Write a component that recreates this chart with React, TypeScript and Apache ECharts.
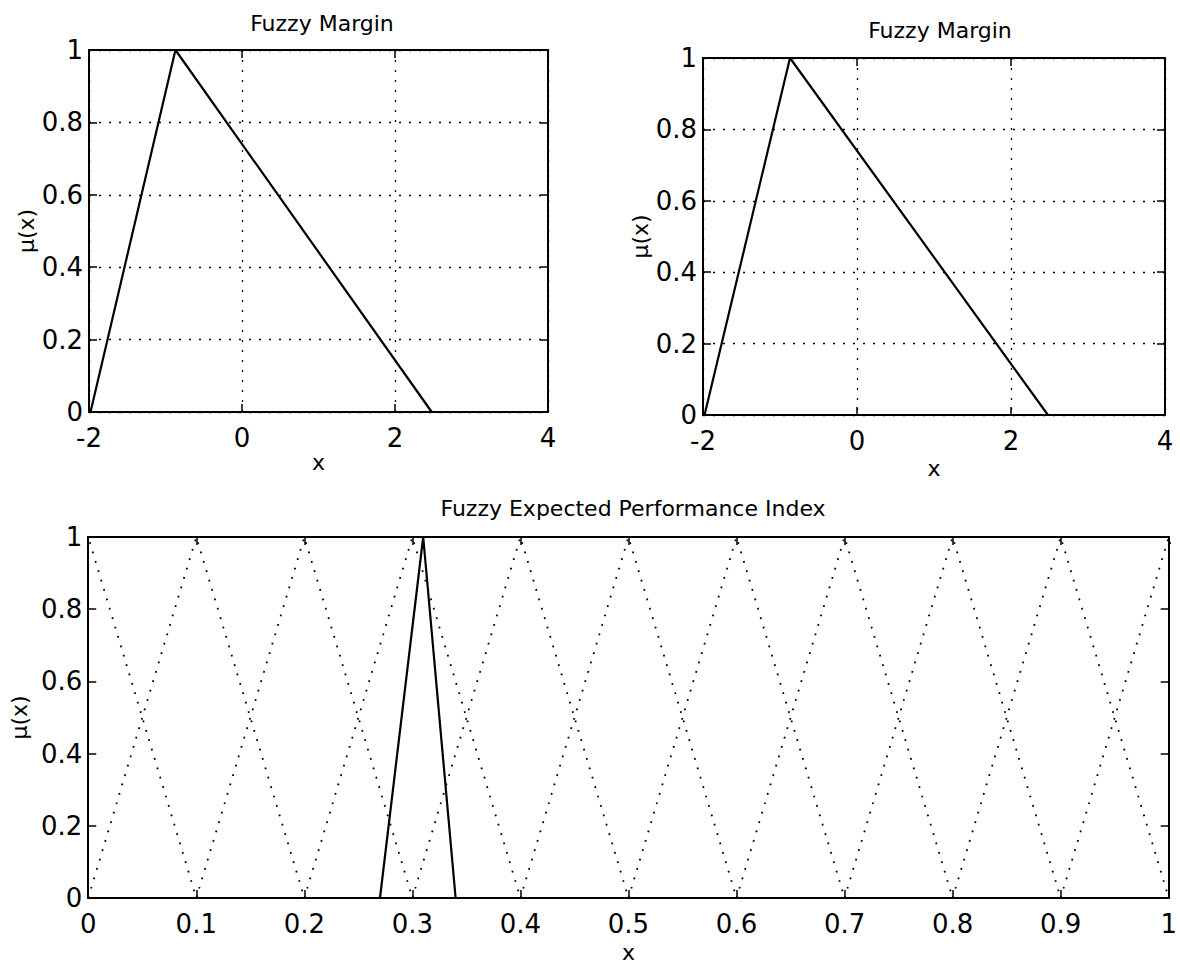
import React, { useEffect, useRef } from "react";
import * as echarts from "echarts";

// ---- data ----
const marginX = [-1.98, -0.87, 2.48];
const marginMu = [0, 1, 0];
const termCenters = [0, 0.1, 0.2, 0.3, 0.4, 0.5, 0.6, 0.7, 0.8, 0.9, 1.0];
const termHalfWidth = 0.1;
const performanceX = [0.27, 0.31, 0.34];
const performanceMu = [0, 1, 0];
const topTitle = "Fuzzy Margin";
const bottomTitle = "Fuzzy Expected Performance Index";
const xName = "x";
const yName = "μ(x)";

const FONT = "DejaVu Sans";

export default function App() {
  const ref = useRef<HTMLDivElement>(null);
  useEffect(() => {
    document.body.style.margin = "0";
    const chart = echarts.init(ref.current!, null, { renderer: "svg" });

    const grids = [
      { left: 89, top: 50, width: 459, height: 362 },
      { left: 703, top: 58, width: 462, height: 357 },
      { left: 86, top: 537, width: 1089, height: 361 },
    ];
    const xRanges = [
      { min: -2, max: 4, interval: 2 },
      { min: -2, max: 4, interval: 2 },
      { min: 0, max: 1, interval: 0.1 },
    ];
    const showGrid = [true, true, false];
    const xNameGaps = [37, 42, 43];
    const yNameGaps = [50, 48, 47];

    const dotted = { type: [2, 8] as any, color: "#000", width: 1.3 };
    const axisLine = { show: true, onZero: false, lineStyle: { color: "#000", width: 2 } };
    const tick = { show: true, inside: true, length: 8, lineStyle: { color: "#000", width: 1.5 } };
    const labelStyle = { fontFamily: FONT, fontSize: 26, color: "#000" };
    const nameStyle = { fontFamily: FONT, fontSize: 22, color: "#000" };

    const xAxis: any[] = [];
    const yAxis: any[] = [];
    grids.forEach((g, i) => {
      xAxis.push({
        type: "value",
        gridIndex: i,
        position: "bottom",
        ...xRanges[i],
        name: xName,
        nameLocation: "middle",
        nameGap: xNameGaps[i],
        nameTextStyle: nameStyle,
        axisLine,
        axisTick: tick,
        axisLabel: { ...labelStyle, margin: 13, lineHeight: 26 },
        splitLine: { show: showGrid[i], lineStyle: dotted },
      });
      xAxis.push({
        type: "value",
        gridIndex: i,
        position: "top",
        ...xRanges[i],
        axisLine,
        axisTick: tick,
        axisLabel: { show: false },
        splitLine: { show: false },
      });
      yAxis.push({
        type: "value",
        gridIndex: i,
        position: "left",
        min: 0,
        max: 1,
        interval: 0.2,
        name: yName,
        nameLocation: "middle",
        nameGap: yNameGaps[i],
        nameTextStyle: nameStyle,
        axisLine,
        axisTick: tick,
        axisLabel: { ...labelStyle, margin: 6, lineHeight: 24 },
        splitLine: { show: showGrid[i], lineStyle: dotted },
      });
      yAxis.push({
        type: "value",
        gridIndex: i,
        position: "right",
        min: 0,
        max: 1,
        interval: 0.2,
        axisLine,
        axisTick: tick,
        axisLabel: { show: false },
        splitLine: { show: false },
      });
    });

    const series: any[] = [];
    const marginData = marginX.map((x, k) => [x, marginMu[k]]);
    [0, 1].forEach((gi) => {
      series.push({
        type: "line",
        xAxisIndex: gi * 2,
        yAxisIndex: gi * 2,
        data: marginData,
        symbol: "none",
        lineStyle: { color: "#000", width: 2.2 },
      });
    });
    termCenters.forEach((c) => {
      series.push({
        type: "line",
        xAxisIndex: 4,
        yAxisIndex: 4,
        data: [
          [c - termHalfWidth, 0],
          [c, 1],
          [c + termHalfWidth, 0],
        ],
        symbol: "none",
        clip: true,
        lineStyle: { color: "#000", width: 1.8, type: [1.8, 8] },
      });
    });
    series.push({
      type: "line",
      xAxisIndex: 4,
      yAxisIndex: 4,
      data: performanceX.map((x, k) => [x, performanceMu[k]]),
      symbol: "none",
      lineStyle: { color: "#000", width: 2.2 },
    });

    const titleStyle = { fontFamily: FONT, fontSize: 22, fontWeight: "normal", color: "#000" };
    chart.setOption({
      animation: false,
      backgroundColor: "#fff",
      title: [
        { text: topTitle, left: 317, top: 7, textAlign: "center", textStyle: titleStyle },
        { text: topTitle, left: 935, top: 14, textAlign: "center", textStyle: titleStyle },
        { text: bottomTitle, left: 628, top: 492, textAlign: "center", textStyle: titleStyle },
      ],
      grid: grids.map((g) => ({ ...g, show: false })),
      xAxis,
      yAxis,
      series,
    });
    return () => chart.dispose();
  }, []);
  return <div ref={ref} style={{ width: 1180, height: 964 }} />;
}
